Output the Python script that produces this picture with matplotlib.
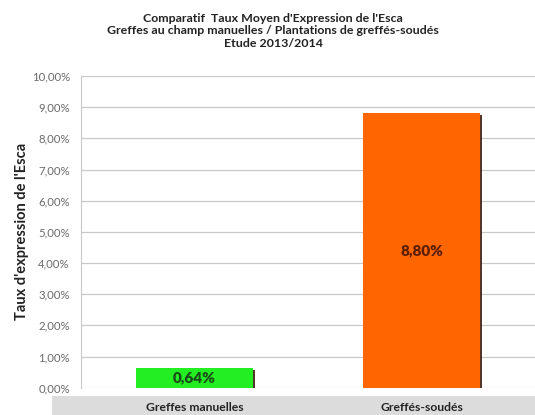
import matplotlib
matplotlib.use("Agg")
import matplotlib.pyplot as plt
import matplotlib.patheffects as pe
from matplotlib.patches import Rectangle

plt.rcParams['font.family'] = ['Lato', 'DejaVu Sans']

categories = ["Greffes manuelles", "Greffés-soudés"]
values = [0.64, 8.80]
labels = ["0,64%", "8,80%"]
colors = ["#22ee22", "#ff6600"]
yticks = [0, 1, 2, 3, 4, 5, 6, 7, 8, 9, 10]
ytick_labels = ["0,00%", "1,00%", "2,00%", "3,00%", "4,00%", "5,00%",
                "6,00%", "7,00%", "8,00%", "9,00%", "10,00%"]
title = ("Comparatif  Taux Moyen d'Expression de l'Esca\n"
         "Greffes au champ manuelles / Plantations de greffés-soudés\n"
         "Etude 2013/2014")

fig = plt.figure(figsize=(5.35, 4.15), dpi=100)
fig.patch.set_facecolor("white")

# grey category band
fig.patches.append(Rectangle((52/535, 0), 1 - 52/535, 19/415,
                             transform=fig.transFigure, facecolor="#dcdcdc",
                             edgecolor="none", zorder=0))

ax = fig.add_axes([81/535, 1 - 387.7/415, 1 - 81/535, (387.7 - 76)/415])
ax.set_xlim(-0.5, 1.5)
ax.set_ylim(0, 10)
ax.set_yticks(yticks)
ax.set_yticklabels(ytick_labels, fontsize=8.2, color="#6a6a6a")
ax.tick_params(axis='y', length=0, pad=8)
ax.tick_params(axis='x', length=0)
ax.set_xticks([])
ax.grid(axis='y', color="#c8c8c8", linewidth=0.9)
ax.set_axisbelow(True)
for s in ["top", "right", "bottom"]:
    ax.spines[s].set_visible(False)
ax.spines["left"].set_color("#c8c8c8")

bars = ax.bar(range(len(values)), values, width=0.515, color=colors,
              edgecolor="none", zorder=3)
for b in bars:
    b.set_path_effects([pe.SimplePatchShadow(offset=(1.5, -1.5), shadow_rgbFace="#402010", alpha=0.9), pe.Normal()])

ax.text(0, values[0] / 2, labels[0], ha="center", va="center",
        fontsize=11, fontweight="heavy", color="#1a4d1a", zorder=5)
ax.text(1, values[1] / 2, labels[1], ha="center", va="center",
        fontsize=11, fontweight="heavy", color="#5a1e00", zorder=5)

for i, c in enumerate(categories):
    x_pix = 81 + (i + 0.5) * (535 - 81) / 2
    fig.text(x_pix / 535, 1 - 407/415, c, ha="center", va="center",
             fontsize=8.7, fontweight="bold", color="#222222")

ax.set_ylabel("Taux d'expression de l'Esca", fontsize=10.5, fontweight="bold",
              color="#222222", labelpad=2)

fig.text(273/535, 1 - 31/415, title, ha="center", va="center",
         fontsize=8.9, fontweight="bold", color="#222222", linespacing=1.2)

fig.savefig("out.png", dpi=100)
